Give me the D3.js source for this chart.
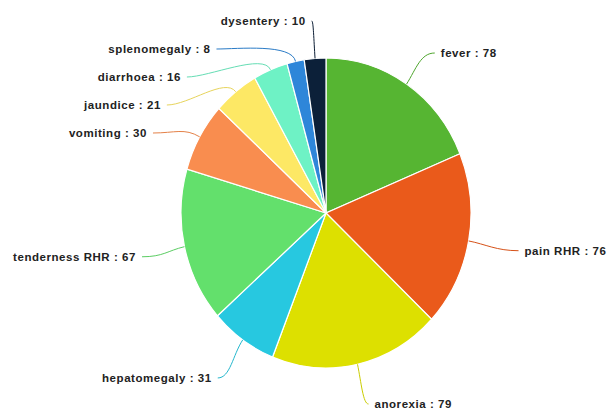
<!DOCTYPE html>
<html><head><meta charset="utf-8">
<script src="https://cdn.jsdelivr.net/npm/d3@7"></script>
<style>body{margin:0;background:#fff}svg{display:block}</style>
</head><body>
<svg id="c" width="608" height="410"></svg>
<script>
const categories = ["fever","pain RHR","anorexia","hepatomegaly","tenderness RHR","vomiting","jaundice","diarrhoea","splenomegaly","dysentery"];
const values = [78,76,79,31,67,30,21,16,8,10];
const colors = ["#56b532","#ea5a1b","#dde000","#27c8e0","#63e06c","#f98d4f","#fde865","#6ef2c5","#2e86d9","#0c2039"];

const W=608,H=410, cx=326, cy=213, rx=145, ry=155, sy=ry/rx;
const svg=d3.select("#c");
const data=categories.map((c,i)=>({name:c,value:values[i],color:colors[i]}));
const pie=d3.pie().sort(null).value(d=>d.value);
const arcs=pie(data);
const arc=d3.arc().innerRadius(0).outerRadius(rx);

svg.append("g").attr("transform",`translate(${cx},${cy}) scale(1,${sy})`)
  .selectAll("path").data(arcs).join("path")
  .attr("d",arc).attr("fill",d=>d.data.color)
  .attr("stroke","#fff").attr("stroke-width",1.2).attr("vector-effect","non-scaling-stroke");

// label layout
const LFL=1.30, LFR=1.35, RF=1.3, spacing=28, topY=21, botY=404, gap=6;
const lab=arcs.map(a=>{
  const m=(a.startAngle+a.endAngle)/2;
  const s=Math.sin(m), c=Math.cos(m);
  const f=s>=0?LFR:LFL;
  return {a, m, s, c, right:s>=0,
    ex:cx+rx*s, ey:cy-ry*c,
    x:cx+rx*f*s, y:cy-ry*f*c, moved:false};
});
const left=lab.filter(l=>!l.right).sort((p,q)=>p.y-q.y);
let prev=-Infinity;
left.forEach(l=>{
  let y=Math.max(l.y, topY);
  if(y<prev+spacing){y=prev+spacing; l.moved=true;}
  l.y=y; prev=y;
  if(l.moved){
    const dy=(l.y-cy)/(ry*RF);
    l.x=cx - rx*RF*Math.sqrt(Math.max(0,1-dy*dy));
  }
});
const right=lab.filter(l=>l.right).sort((p,q)=>p.y-q.y);
prev=-Infinity;
right.forEach(l=>{
  let y=Math.min(Math.max(l.y,topY+32),botY);
  if(y<prev+spacing){y=prev+spacing;}
  l.y=y; prev=y;
});

const g=svg.append("g");
lab.forEach(l=>{
  const dir=l.right?1:-1;
  const p1x=l.ex + l.s*rx*0.12, p1y=l.ey-l.c*ry*0.12;
  const p2x=l.x-dir*Math.min(22,Math.abs(l.x-l.ex)*0.5), p2y=l.y;
  const col=d3.color(l.a.data.color);
  g.append("path")
    .attr("d",`M${l.ex},${l.ey} C${p1x},${p1y} ${p2x},${p2y} ${l.x},${l.y}`)
    .attr("fill","none").attr("stroke",col.darker(0.25)).attr("stroke-width",1);
  g.append("text")
    .attr("x",l.x+dir*gap).attr("y",l.y).attr("dy","0.35em")
    .attr("text-anchor",l.right?"start":"end")
    .attr("font-family","Liberation Sans, Arial, sans-serif").attr("font-weight","bold")
    .attr("font-size","11.5px").attr("letter-spacing","0.55px").attr("fill","#222")
    .text(`${l.a.data.name} : ${l.a.data.value}`);
});
</script>
</body></html>
